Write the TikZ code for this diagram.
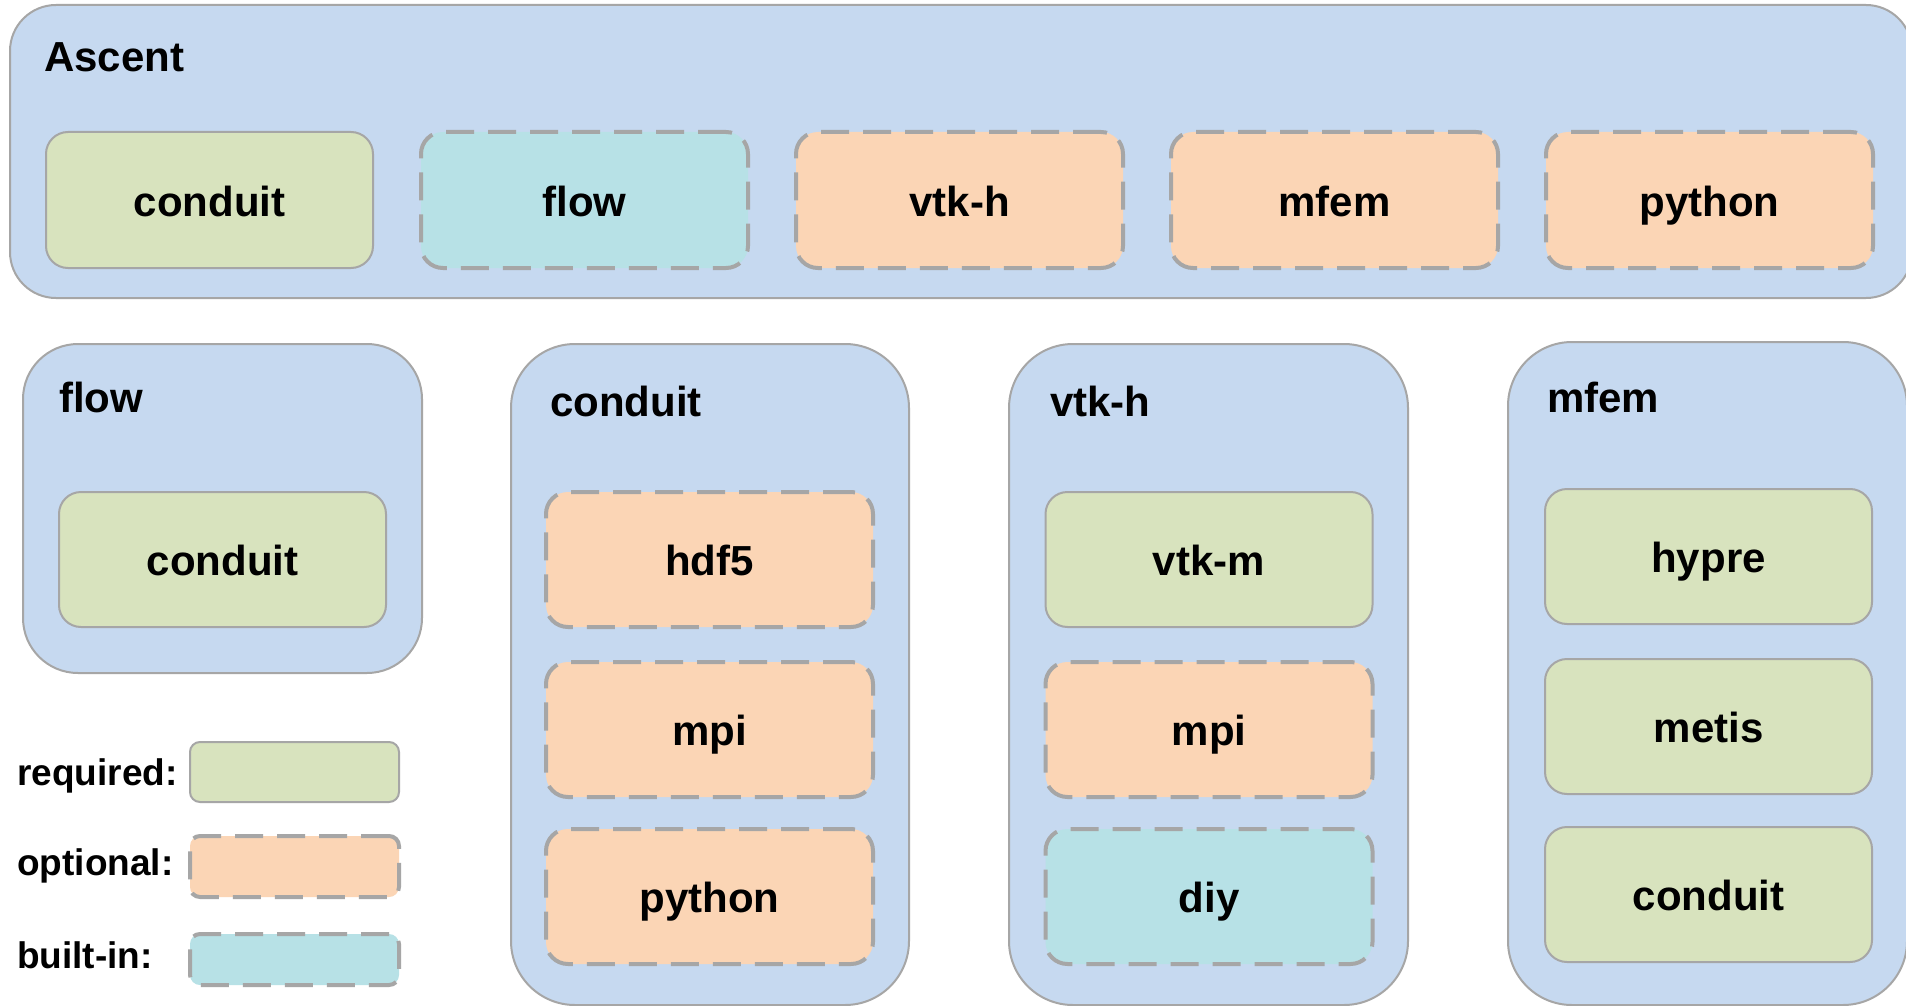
\documentclass[tikz,border=0pt]{standalone}
\usepackage{fontspec}
\setmainfont{Liberation Sans}
\definecolor{panelblue}{RGB}{198,217,240}
\definecolor{reqgreen}{RGB}{216,227,190}
\definecolor{optorange}{RGB}{251,213,181}
\definecolor{bicyan}{RGB}{183,225,230}
\definecolor{bord}{RGB}{166,166,166}
\tikzset{
  panelbox/.style={draw=bord, line width=2pt, fill=panelblue, inner sep=0pt, outer sep=0pt},
  itembox/.style={inner sep=0pt, outer sep=0pt, minimum width=327pt, minimum height=136pt,
     rounded corners=22pt, text height=32pt, text depth=0pt,
     font=\fontsize{42}{50}\selectfont\bfseries},
  reqbox/.style={itembox, draw=bord, line width=2pt, fill=reqgreen},
  optbox/.style={itembox, draw=bord, line width=4pt, dash pattern=on 28pt off 14pt, fill=optorange},
  bibox/.style={itembox, draw=bord, line width=4pt, dash pattern=on 28pt off 14pt, fill=bicyan},
  paneltitle/.style={anchor=base west, inner sep=0pt, font=\fontsize{42}{50}\selectfont\bfseries},
  legtext/.style={anchor=base west, inner sep=0pt, font=\fontsize{37}{44}\selectfont\bfseries},
}
\begin{document}
\begin{tikzpicture}[x=1pt,y=-1pt]
\useasboundingbox (0,0) rectangle (1906,1006);
\clip (0,0) rectangle (1906,1006);
\fill[white] (0,0) rectangle (1906,1006);

% Ascent panel
\node[panelbox, minimum width=1902pt, minimum height=293pt, rounded corners=46pt] (ascentpanel) at (961,151.5) {};
\node[paneltitle] (ascenttitle) at (44,72) {Ascent};
\node[reqbox] (a-conduit) at (209.5,200) {conduit};
\node[bibox]  (a-flow)    at (584.5,200) {flow};
\node[optbox] (a-vtkh)    at (959.5,200) {vtk-h};
\node[optbox] (a-mfem)    at (1334.5,200) {mfem};
\node[optbox] (a-python)  at (1709.5,200) {python};

% flow panel
\node[panelbox, minimum width=399pt, minimum height=329pt, rounded corners=55pt] (flowpanel) at (222.5,508.5) {};
\node[paneltitle] (flowtitle) at (59,412) {flow};
\node[reqbox, minimum height=135pt] (f-conduit) at (222.5,559.5) {conduit};

% conduit panel
\node[panelbox, minimum width=398pt, minimum height=661pt, rounded corners=64pt] (conduitpanel) at (710,674.5) {};
\node[paneltitle] (conduittitle) at (550,416) {conduit};
\node[optbox, minimum height=135pt] (c-hdf5)   at (709.5,559.5) {hdf5};
\node[optbox, minimum height=135pt] (c-mpi)    at (709.5,729.5) {mpi};
\node[optbox, minimum height=135pt] (c-python) at (709.5,896.5) {python};

% vtk-h panel
\node[panelbox, minimum width=399pt, minimum height=661pt, rounded corners=64pt] (vtkhpanel) at (1208.5,674.5) {};
\node[paneltitle] (vtkhtitle) at (1050,416) {vtk-h};
\node[reqbox, minimum height=135pt] (v-vtkm) at (1209,559.5) {vtk-m};
\node[optbox, minimum height=135pt] (v-mpi)  at (1209,729.5) {mpi};
\node[bibox,  minimum height=135pt] (v-diy)  at (1209,896.5) {diy};

% mfem panel
\node[panelbox, minimum width=399pt, minimum height=663pt, rounded corners=64pt] (mfempanel) at (1707.5,673.5) {};
\node[paneltitle] (mfemtitle) at (1547,412) {mfem};
\node[reqbox, minimum height=135pt] (m-hypre)   at (1708.5,556.5) {hypre};
\node[reqbox, minimum height=135pt] (m-metis)   at (1708.5,726.5) {metis};
\node[reqbox, minimum height=135pt] (m-conduit) at (1708.5,894.5) {conduit};

% legend
\node[legtext] (lreq) at (17,785) {required:};
\node[legtext] (lopt) at (17,875) {optional:};
\node[legtext] (lbi)  at (17,968) {built-in:};
\node[reqbox, minimum width=209pt, minimum height=60pt, rounded corners=10pt] (kreq) at (294.5,772) {};
\node[optbox, minimum width=209pt, minimum height=61pt, rounded corners=10pt] (kopt) at (294.5,866.5) {};
\node[bibox,  minimum width=209pt, minimum height=51pt, rounded corners=10pt] (kbi)  at (294.5,959.5) {};
\end{tikzpicture}
\end{document}
